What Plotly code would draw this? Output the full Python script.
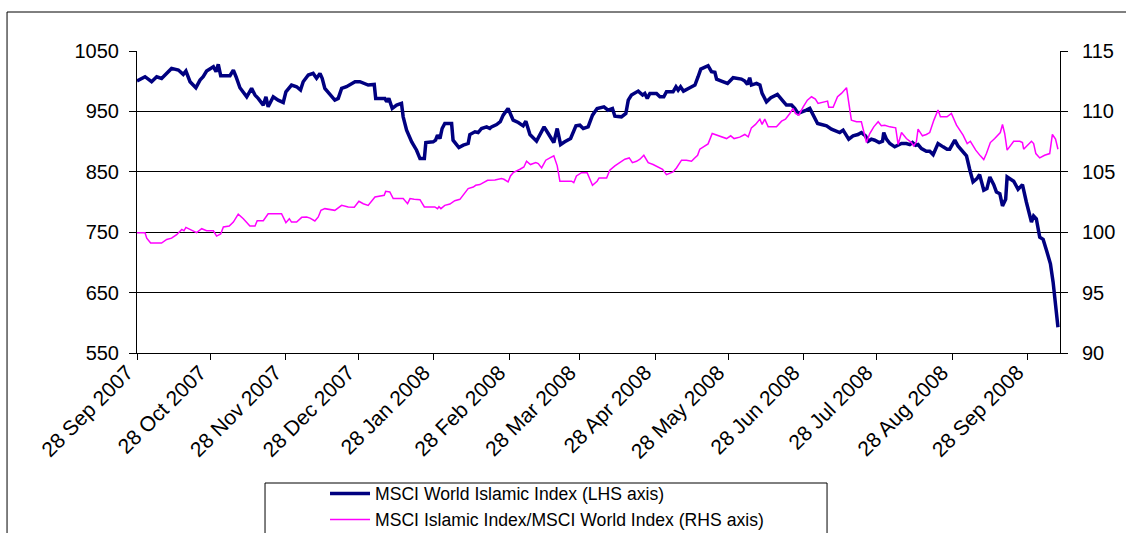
import pandas as pd
import plotly.graph_objects as go

start_date = "2007-09-28"

# MSCI World Islamic Index (LHS) - days since start date and index level
islamic_days = [
    0.0, 3.3, 6.0, 8.1, 10.1, 11.5, 14.2, 17.0, 19.0, 20.1,
    21.8, 24.2, 25.9, 27.2, 28.6, 31.4, 32.5, 33.4, 34.4, 38.2,
    39.6, 40.7, 42.3, 45.1, 47.1, 48.5, 49.8, 51.9, 53.0, 53.9,
    56.0, 58.0, 60.1, 61.2, 63.5, 65.6, 67.2, 68.3, 70.4, 72.4,
    73.8, 75.2, 76.1, 77.2, 79.3, 81.3, 82.7, 84.1, 86.1, 88.2,
    89.6, 91.6, 95.0, 97.5, 98.1, 101.9, 102.6, 103.5, 104.9, 106.7,
    108.7, 109.4, 110.8, 112.9, 114.9, 116.3, 118.1, 118.7, 121.7, 122.7,
    123.5, 124.5, 125.4, 126.5, 129.3, 129.9, 132.3, 134.1, 136.1, 136.8,
    138.9, 140.2, 141.6, 143.7, 145.0, 145.7, 147.8, 149.3, 150.5, 152.5,
    154.6, 156.7, 158.7, 159.8, 161.5, 164.2, 166.3, 167.3, 169.0, 171.3,
    172.7, 174.1, 175.8, 178.2, 180.4, 182.0, 183.4, 185.4, 187.2, 189.1,
    191.9, 193.6, 195.4, 196.4, 199.1, 200.9, 201.9, 203.2, 206.0, 207.8,
    208.7, 209.7, 210.8, 213.5, 214.9, 216.5, 217.6, 220.3, 221.5, 222.4,
    223.4, 224.6, 227.2, 229.3, 230.6, 231.7, 234.7, 236.1, 237.5, 238.2,
    240.2, 242.7, 245.0, 248.4, 249.8, 250.9, 251.8, 252.5, 254.6, 256.0,
    256.9, 258.7, 260.5, 263.2, 265.5, 266.9, 269.0, 270.3, 271.7, 273.8,
    275.1, 276.5, 277.9, 279.7, 281.3, 283.4, 285.4, 287.5, 288.8, 290.2,
    291.6, 292.5, 294.3, 296.3, 297.7, 299.4, 300.5, 301.8, 303.2, 305.0,
    306.4, 306.9, 308.0, 309.4, 311.4, 312.8, 314.2, 316.2, 317.6, 318.7,
    320.0, 321.0, 322.4, 324.4, 325.8, 327.2, 329.2, 331.3, 332.9, 334.0,
    336.1, 337.4, 339.2, 340.9, 342.2, 343.6, 345.2, 346.3, 348.0, 349.3,
    350.5, 352.1, 353.2, 354.6, 355.7, 357.0, 357.6, 359.4, 360.3, 362.1,
    363.9, 365.5, 367.6, 368.5, 369.6, 371.0, 372.4, 373.8, 375.4, 376.5,
    377.4, 378.5,
]
islamic_index = [
    1000.2, 1007.4, 999.1, 1007.4, 1004.6, 1010.2, 1021.2, 1018.5, 1011.3, 1016.8,
    999.1, 989.2, 1001.9, 1007.4, 1016.8, 1024.0, 1015.7, 1027.9, 1009.1, 1009.1,
    1018.5, 1007.4, 989.2, 974.2, 988.1, 977.0, 971.5, 960.4, 974.2, 957.6,
    974.2, 968.7, 964.8, 982.5, 993.6, 990.8, 985.3, 999.1, 1010.2, 1012.9,
    1005.0, 1012.9, 1004.6, 988.1, 977.0, 968.7, 971.5, 988.1, 990.8, 996.3,
    999.1, 999.1, 993.6, 994.7, 971.5, 971.5, 965.9, 971.5, 954.9, 960.4,
    963.2, 941.0, 918.9, 899.6, 885.7, 871.9, 871.9, 898.5, 899.6, 902.3,
    910.6, 905.1, 921.7, 930.0, 930.0, 902.3, 890.2, 894.0, 896.8, 911.7,
    916.2, 915.0, 921.7, 924.4, 921.7, 924.4, 928.3, 933.0, 943.8, 954.9,
    935.5, 931.6, 926.1, 933.8, 911.7, 900.7, 917.3, 924.4, 913.4, 898.5,
    921.7, 895.1, 899.6, 905.1, 926.1, 927.2, 921.7, 924.4, 943.8, 954.9,
    957.6, 952.1, 954.9, 942.1, 941.0, 946.6, 968.7, 977.0, 983.6, 977.0,
    979.8, 971.5, 979.8, 979.8, 974.2, 974.2, 982.5, 982.5, 990.8, 985.3,
    990.8, 983.6, 989.2, 993.6, 1007.4, 1020.1, 1025.7, 1015.7, 1014.6, 1003.5,
    1000.2, 996.3, 1005.8, 1003.5, 1000.2, 994.7, 1005.8, 993.6, 996.3, 993.6,
    979.8, 965.9, 972.6, 978.1, 967.0, 960.4, 960.4, 954.9, 946.6, 949.3,
    952.1, 954.9, 943.8, 930.0, 928.3, 926.1, 920.6, 917.3, 915.0, 918.9,
    909.5, 904.0, 909.5, 911.7, 915.0, 909.5, 900.7, 904.0, 902.3, 898.5,
    900.7, 915.0, 904.0, 896.8, 891.3, 894.0, 896.8, 896.8, 895.1, 898.5,
    894.0, 895.1, 888.5, 884.1, 884.1, 878.5, 896.8, 891.3, 887.4, 887.4,
    902.3, 892.9, 884.1, 876.3, 854.2, 833.2, 838.7, 845.4, 819.4, 822.1,
    841.5, 828.8, 816.6, 813.8, 793.4, 804.4, 841.5, 837.6, 834.3, 821.0,
    828.8, 800.0, 766.8, 776.8, 772.3, 741.9, 738.1, 719.8, 697.7, 667.3,
    631.3, 592.6,
]

# MSCI Islamic Index / MSCI World Index (RHS)
ratio_days = [
    0.0, 3.3, 4.0, 5.6, 10.1, 12.2, 14.2, 16.3, 18.4, 19.3,
    20.1, 22.5, 24.5, 26.6, 28.6, 31.4, 32.7, 34.4, 35.5, 37.9,
    39.6, 41.6, 43.7, 46.4, 48.5, 49.4, 51.9, 53.9, 59.4, 61.2,
    62.6, 63.5, 65.6, 67.7, 69.7, 71.1, 73.1, 74.5, 75.6, 77.2,
    79.3, 81.3, 84.1, 86.8, 89.3, 91.2, 93.0, 95.0, 97.8, 99.8,
    101.6, 102.2, 103.9, 105.3, 109.4, 111.2, 112.2, 113.9, 116.3, 118.1,
    122.4, 123.5, 124.1, 124.9, 126.5, 128.6, 130.6, 132.7, 134.5, 136.1,
    138.2, 139.2, 140.9, 144.1, 147.1, 149.8, 150.8, 152.5, 153.5, 154.6,
    157.4, 159.0, 160.1, 161.7, 163.9, 164.9, 166.3, 168.0, 169.7, 171.3,
    172.7, 173.8, 178.6, 179.5, 180.6, 182.7, 185.0, 186.1, 187.2, 189.1,
    189.9, 193.0, 194.3, 196.4, 198.4, 200.5, 202.3, 203.6, 205.3, 206.7,
    208.3, 210.1, 212.1, 214.2, 216.0, 217.6, 219.3, 220.3, 221.7, 223.8,
    225.8, 227.9, 229.0, 230.4, 231.3, 233.4, 234.7, 236.4, 238.2, 240.2,
    242.3, 244.0, 245.4, 247.7, 249.8, 251.2, 252.5, 254.2, 256.0, 256.9,
    258.0, 259.4, 262.8, 264.9, 266.5, 268.3, 269.6, 270.6, 272.0, 273.8,
    275.5, 277.2, 278.8, 279.9, 282.0, 283.8, 284.3, 286.1, 287.9, 289.5,
    291.6, 293.6, 295.7, 297.7, 299.8, 301.1, 302.8, 304.6, 305.9, 307.3,
    309.4, 311.8, 312.8, 314.2, 316.2, 318.3, 319.2, 320.3, 321.0, 322.8,
    324.4, 325.8, 327.5, 329.2, 330.2, 332.9, 334.7, 336.8, 339.5, 341.2,
    342.5, 344.7, 346.6, 348.0, 349.1, 350.7, 352.5, 354.8, 355.7, 356.6,
    357.6, 358.9, 360.3, 362.8, 363.9, 364.4, 366.2, 367.6, 368.5, 369.4,
    371.0, 373.0, 375.1, 376.2, 377.5, 378.5,
]
ratio_values = [
    99.96, 99.96, 99.51, 99.10, 99.10, 99.40, 99.51, 99.79, 100.23, 100.12,
    100.40, 100.15, 99.96, 100.29, 100.12, 100.12, 99.68, 99.85, 100.43, 100.51,
    100.84, 101.50, 101.12, 100.51, 100.51, 100.95, 100.95, 101.53, 101.53, 100.79,
    101.12, 100.84, 100.84, 101.23, 101.26, 101.17, 100.93, 101.26, 101.81, 101.95,
    101.89, 101.81, 102.22, 102.09, 102.06, 102.56, 102.36, 102.22, 102.91, 103.00,
    103.05, 103.38, 103.33, 102.78, 102.78, 102.36, 102.78, 102.72, 102.69, 102.09,
    102.09, 101.95, 102.11, 101.95, 102.22, 102.33, 102.61, 102.72, 103.19, 103.61,
    103.74, 103.88, 103.94, 104.30, 104.33, 104.44, 104.38, 104.16, 104.66, 104.93,
    105.21, 105.40, 105.87, 105.60, 105.76, 105.68, 105.32, 105.96, 106.15, 106.32,
    105.49, 104.22, 104.22, 104.10, 104.66, 104.93, 104.93, 104.44, 103.88, 104.22,
    104.49, 104.49, 105.13, 105.49, 105.76, 106.04, 106.15, 105.76, 105.87, 106.04,
    106.37, 105.76, 105.60, 105.38, 105.21, 104.77, 104.93, 104.99, 105.32, 105.96,
    105.96, 105.87, 106.10, 106.37, 106.87, 107.12, 107.31, 108.17, 108.03, 107.89,
    107.75, 107.98, 107.75, 107.87, 108.09, 107.89, 108.64, 108.92, 109.36, 108.92,
    109.36, 108.72, 108.72, 109.19, 109.36, 109.83, 110.24, 109.83, 109.69, 110.38,
    110.93, 111.21, 111.02, 110.66, 110.74, 110.85, 110.35, 110.35, 111.21, 111.49,
    111.96, 109.28, 109.14, 109.14, 107.42, 108.15, 108.72, 109.14, 108.81, 108.86,
    108.72, 108.64, 107.26, 108.25, 107.75, 107.42, 107.15, 107.48, 108.53, 107.98,
    108.09, 108.25, 109.28, 110.11, 109.55, 109.55, 109.83, 108.86, 108.03, 107.34,
    107.53, 106.79, 106.32, 106.01, 106.51, 107.42, 107.75, 108.25, 108.92, 108.17,
    106.79, 107.15, 107.53, 107.53, 107.42, 106.87, 107.26, 107.53, 107.34, 106.51,
    106.15, 106.37, 106.51, 108.09, 107.70, 106.87,
]

series_names = [
    "MSCI World Islamic Index (LHS axis)",
    "MSCI Islamic Index/MSCI World Index (RHS axis)",
]
tick_dates = [
    "2007-09-28", "2007-10-28", "2007-11-28", "2007-12-28", "2008-01-28",
    "2008-02-28", "2008-03-28", "2008-04-28", "2008-05-28", "2008-06-28",
    "2008-07-28", "2008-08-28", "2008-09-28",
]
tick_labels = [
    "28 Sep 2007", "28 Oct 2007", "28 Nov 2007", "28 Dec 2007", "28 Jan 2008",
    "28 Feb 2008", "28 Mar 2008", "28 Apr 2008", "28 May 2008", "28 Jun 2008",
    "28 Jul 2008", "28 Aug 2008", "28 Sep 2008",
]
x_range = ["2007-09-28", "2008-10-11 08:00"]

t0 = pd.Timestamp(start_date)
islamic_dates = t0 + pd.to_timedelta(islamic_days, unit="D")
ratio_dates = t0 + pd.to_timedelta(ratio_days, unit="D")

FONT = "Liberation Sans, Arial, sans-serif"

fig = go.Figure()
fig.add_trace(go.Scatter(
    x=islamic_dates, y=islamic_index, name=series_names[0], mode="lines",
    line=dict(color="#000080", width=3.5), yaxis="y",
))
fig.add_trace(go.Scatter(
    x=ratio_dates, y=ratio_values, name=series_names[1], mode="lines",
    line=dict(color="#FF00FF", width=1.5), yaxis="y2",
))

fig.update_layout(
    width=1126, height=533,
    margin=dict(l=137, r=66, t=51, b=180, autoexpand=False),
    paper_bgcolor="white", plot_bgcolor="white",
    font=dict(family=FONT, color="black", size=19),
    xaxis=dict(
        type="date", range=x_range, automargin=False,
        tickmode="array", tickvals=tick_dates, ticktext=tick_labels,
        tickangle=-45, ticklabelshift=-10, ticklabelstandoff=-8,
        showline=True, linecolor="black", linewidth=1,
        ticks="outside", ticklen=6, tickcolor="black",
        showgrid=False, zeroline=False,
        tickfont=dict(size=21),
    ),
    yaxis=dict(
        range=[550, 1050], tick0=550, dtick=100, automargin=False,
        showline=True, linecolor="black", linewidth=1,
        ticks="outside", ticklen=7, tickcolor="black",
        showgrid=True, gridcolor="black", gridwidth=1,
        zeroline=False, tickfont=dict(size=20), ticklabelstandoff=6,
    ),
    yaxis2=dict(
        range=[90, 115], tick0=90, dtick=5, overlaying="y", side="right",
        automargin=False,
        showline=True, linecolor="black", linewidth=1,
        ticks="outside", ticklen=7, tickcolor="black",
        showgrid=False, zeroline=False, tickfont=dict(size=20),
        ticklabelstandoff=10,
    ),
    showlegend=True,
    legend=dict(
        x=0.2037, y=-0.406, xanchor="left", yanchor="top",
        bgcolor="rgba(0,0,0,0)", borderwidth=0, itemwidth=40,
        font=dict(size=17.6, family=FONT), tracegroupgap=0,
    ),
    shapes=[
        dict(type="rect", xref="paper", yref="paper",
             x0=-0.1408, x1=1.08, y0=-0.8, y1=1.1291,
             line=dict(color="black", width=1), fillcolor="rgba(0,0,0,0)",
             layer="below"),
        dict(type="rect", xref="paper", yref="paper",
             x0=0.1387, x1=0.7476, y0=-0.8, y1=-0.4305,
             line=dict(color="black", width=1), fillcolor="rgba(0,0,0,0)",
             layer="below"),
    ],
)

fig.write_html("out.html")
